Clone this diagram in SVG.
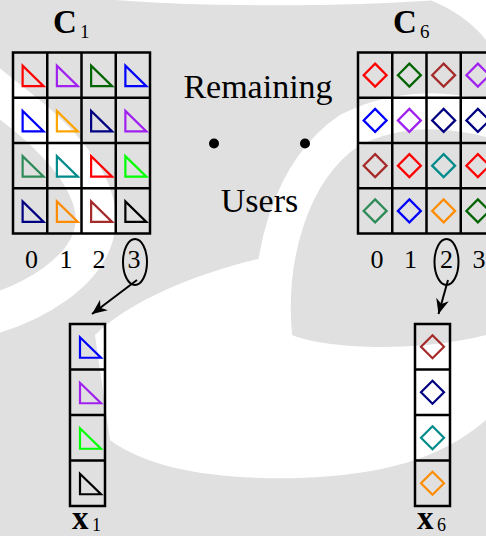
<svg xmlns="http://www.w3.org/2000/svg" xmlns:xlink="http://www.w3.org/1999/xlink" width="486" height="536" viewBox="0 0 486 536">
  <style>
    .bg { fill: #e0e0e0; }
    .wm { fill: none; stroke: #ffffff; }
    .wmfill { fill: #ffffff; }
    .grid { fill: none; stroke: #000000; stroke-width: 2.5; }
    .mark { fill: none; stroke-width: 2.2; stroke-linejoin: miter; }
    .lbl { font-family: "Liberation Serif", "Times New Roman", serif; fill: #000000; }
    .bold { font-weight: bold; }
    .idx { font-size: 26px; text-anchor: middle; }
    .word { font-size: 34px; text-anchor: middle; }
    .conn { fill: none; stroke: #000000; stroke-width: 2; }
    .ring { fill: none; stroke: #000000; stroke-width: 2; }
  </style>
  <defs>
    <path id="tri" class="mark" d="M -7.5 -9.5 L -7.5 11 L 13.5 11 Z"/>
    <path id="dia" class="mark" d="M 0 -11.5 L 11.5 0 L 0 11.5 L -11.5 0 Z"/>
    <marker id="arrow" viewBox="-16 -8 17 16" refX="0" refY="0" markerWidth="17" markerHeight="16" orient="auto" markerUnits="userSpaceOnUse">
      <path d="M 0 0 L -15 -6.5 L -10.5 0 L -15 6.5 Z" fill="#000000"/>
    </marker>
  </defs>

  <!-- background texture -->
  <g id="background">
    <rect class="bg" x="0" y="0" width="486" height="536"/>
    <path class="wm" stroke-width="40" d="M -20 78 L 30 118 C 70 152, 108 198, 92 240 C 80 272, 40 300, -10 315"/>
    <path class="wm" stroke-width="36" d="M 275 345 C 265 260, 290 170, 350 130 C 400 105, 450 108, 500 122"/>
    <path class="wmfill" d="M 95 335 C 130 300, 200 272, 262 258 L 292 335 C 330 350, 420 352, 486 335 L 486 420 C 440 460, 380 475, 300 478 C 220 480, 150 470, 110 440 Z"/>
    <path class="wmfill" d="M 430 0 L 486 0 L 486 40 C 470 20, 450 8, 430 0 Z"/>
    <path class="wmfill" d="M 115 0 C 200 7, 350 7, 435 0 Z"/>
  </g>

  <!-- codebook C1 -->
  <g id="C1">
    <text class="lbl bold" x="53" y="33" font-size="33">C</text>
    <text class="lbl" x="80" y="37.5" font-size="19">1</text>
    <rect class="grid" x="13" y="52.5" width="137" height="181"/>
    <path class="grid" d="M 47.25 52.5 V 233.5 M 81.5 52.5 V 233.5 M 115.75 52.5 V 233.5 M 13 97.75 H 150 M 13 143 H 150 M 13 188.25 H 150"/>
    <use xlink:href="#tri" x="30.125" y="75.125" stroke="#ff0000"/>
    <use xlink:href="#tri" x="64.375" y="75.125" stroke="#a020f0"/>
    <use xlink:href="#tri" x="98.625" y="75.125" stroke="#006400"/>
    <use xlink:href="#tri" x="132.875" y="75.125" stroke="#0000ff"/>
    <use xlink:href="#tri" x="30.125" y="120.375" stroke="#0000ff"/>
    <use xlink:href="#tri" x="64.375" y="120.375" stroke="#ffa500"/>
    <use xlink:href="#tri" x="98.625" y="120.375" stroke="#000080"/>
    <use xlink:href="#tri" x="132.875" y="120.375" stroke="#a020f0"/>
    <use xlink:href="#tri" x="30.125" y="165.625" stroke="#2e8b57"/>
    <use xlink:href="#tri" x="64.375" y="165.625" stroke="#008b8b"/>
    <use xlink:href="#tri" x="98.625" y="165.625" stroke="#ff0000"/>
    <use xlink:href="#tri" x="132.875" y="165.625" stroke="#00ff00"/>
    <use xlink:href="#tri" x="30.125" y="210.875" stroke="#000080"/>
    <use xlink:href="#tri" x="64.375" y="210.875" stroke="#ff8c00"/>
    <use xlink:href="#tri" x="98.625" y="210.875" stroke="#a52a2a"/>
    <use xlink:href="#tri" x="132.875" y="210.875" stroke="#000000"/>
    <text class="lbl idx" x="31.5" y="268">0</text>
    <text class="lbl idx" x="66" y="268">1</text>
    <text class="lbl idx" x="99" y="268">2</text>
    <text class="lbl idx" x="134" y="268">3</text>
    <ellipse class="ring" cx="135" cy="262" rx="12" ry="23"/>
  </g>

  <!-- codebook C6 -->
  <g id="C6">
    <text class="lbl bold" x="393" y="33" font-size="33">C</text>
    <text class="lbl" x="420" y="37.5" font-size="19">6</text>
    <rect class="grid" x="358" y="52.5" width="137" height="181"/>
    <path class="grid" d="M 392.25 52.5 V 233.5 M 426.5 52.5 V 233.5 M 460.75 52.5 V 233.5 M 358 97.75 H 495 M 358 143 H 495 M 358 188.25 H 495"/>
    <use xlink:href="#dia" x="375.125" y="75.125" stroke="#ff0000"/>
    <use xlink:href="#dia" x="409.375" y="75.125" stroke="#006400"/>
    <use xlink:href="#dia" x="443.625" y="75.125" stroke="#a52a2a"/>
    <use xlink:href="#dia" x="477.875" y="75.125" stroke="#a020f0"/>
    <use xlink:href="#dia" x="375.125" y="120.375" stroke="#0000ff"/>
    <use xlink:href="#dia" x="409.375" y="120.375" stroke="#a020f0"/>
    <use xlink:href="#dia" x="443.625" y="120.375" stroke="#000080"/>
    <use xlink:href="#dia" x="477.875" y="120.375" stroke="#000080"/>
    <use xlink:href="#dia" x="375.125" y="165.625" stroke="#a52a2a"/>
    <use xlink:href="#dia" x="409.375" y="165.625" stroke="#ff0000"/>
    <use xlink:href="#dia" x="443.625" y="165.625" stroke="#008b8b"/>
    <use xlink:href="#dia" x="477.875" y="165.625" stroke="#ff0000"/>
    <use xlink:href="#dia" x="375.125" y="210.875" stroke="#2e8b57"/>
    <use xlink:href="#dia" x="409.375" y="210.875" stroke="#0000ff"/>
    <use xlink:href="#dia" x="443.625" y="210.875" stroke="#ff8c00"/>
    <use xlink:href="#dia" x="477.875" y="210.875" stroke="#006400"/>
    <text class="lbl idx" x="377" y="268">0</text>
    <text class="lbl idx" x="410.5" y="268">1</text>
    <text class="lbl idx" x="446.5" y="268">2</text>
    <text class="lbl idx" x="479" y="268">3</text>
    <ellipse class="ring" cx="446.5" cy="262" rx="12" ry="23"/>
  </g>

  <!-- middle caption -->
  <g id="remaining-users">
    <text class="lbl word" x="258" y="98">Remaining</text>
    <circle cx="214" cy="143.5" r="5" fill="#000000"/>
    <circle cx="305" cy="143.5" r="5" fill="#000000"/>
    <text class="lbl word" x="259.5" y="212">Users</text>
  </g>

  <!-- selected codeword x1 -->
  <g id="x1">
    <rect class="grid" x="70" y="324" width="35" height="182"/>
    <path class="grid" d="M 70 369.5 H 105 M 70 415 H 105 M 70 460.5 H 105"/>
    <use xlink:href="#tri" x="87.5" y="346.75" stroke="#0000ff"/>
    <use xlink:href="#tri" x="87.5" y="392.25" stroke="#a020f0"/>
    <use xlink:href="#tri" x="87.5" y="437.75" stroke="#00ff00"/>
    <use xlink:href="#tri" x="87.5" y="483.25" stroke="#000000"/>
    <text class="lbl bold" x="72" y="529" font-size="33">x</text>
    <text class="lbl" x="92" y="531" font-size="18">1</text>
  </g>

  <!-- selected codeword x6 -->
  <g id="x6">
    <rect class="grid" x="415" y="324" width="35" height="182"/>
    <path class="grid" d="M 415 369.5 H 450 M 415 415 H 450 M 415 460.5 H 450"/>
    <use xlink:href="#dia" x="432.5" y="346.75" stroke="#a52a2a"/>
    <use xlink:href="#dia" x="432.5" y="392.25" stroke="#000080"/>
    <use xlink:href="#dia" x="432.5" y="437.75" stroke="#008b8b"/>
    <use xlink:href="#dia" x="432.5" y="483.25" stroke="#ff8c00"/>
    <text class="lbl bold" x="417" y="529" font-size="33">x</text>
    <text class="lbl" x="437" y="531" font-size="18">6</text>
  </g>

  <!-- connectors -->
  <g id="connectors">
    <line class="conn" x1="137" y1="280" x2="92" y2="314" marker-end="url(#arrow)"/>
    <line class="conn" x1="448" y1="280" x2="438.5" y2="314" marker-end="url(#arrow)"/>
  </g>
</svg>
